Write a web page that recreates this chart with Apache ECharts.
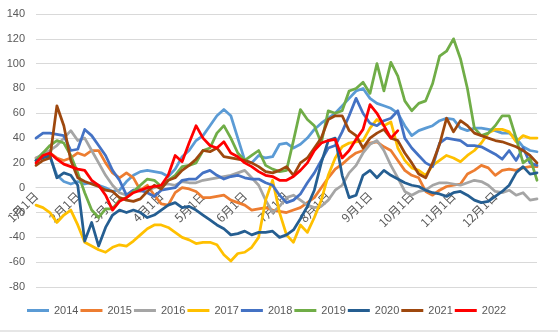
<!DOCTYPE html>
<html><head><meta charset="utf-8">
<script src="https://cdn.jsdelivr.net/npm/echarts@6/dist/echarts.min.js"></script>
<style>html,body{margin:0;padding:0;background:#fff}#c{width:558px;height:332px}</style>
</head><body><div id="c"></div>
<script>
// Category axis: 6 samples per month, plus year end
const months = [1,2,3,4,5,6,7,8,9,10,11,12];
const sampleDays = [1,6,11,16,21,26];
const categories = [];
months.forEach(m => sampleDays.forEach(d => categories.push(m + '月' + d + '日')));
categories.push('12月31日');

const seriesNames = ['2014','2015','2016','2017','2018','2019','2020','2021','2022'];
const colors = ['#5B9BD5','#ED7D31','#A5A5A5','#FFC000','#4472C4','#70AD47','#255E91','#9E480E','#FF0000'];

const s2014 = [22,28,25,10,5,3,5,3,4,2, 0,-3,-2,5,10,13,14,13,12,9, 15,25,30,38,42,50,58,63,58,40, 22,20,26,24,25,35,36,32,35,40, 47,52,56,60,66,72,78,80,72,68, 66,64,60,50,42,46,48,50,54,56, 55,48,46,48,48,47,46,44,44,40, 33,30,29];
const s2015 = [24,26,28,24,22,24,28,26,30,30, 20,12,8,12,8,-2,2,-6,-13,-14, -4,0,-1,-3,-8,-8,-7,-6,-10,-12, -14,-18,-17,-16,-18,-19,-20,-18,-16,-12, -8,0,8,15,19,24,28,30,36,37, 33,30,22,14,10,8,-3,-6,-2,1, 2,3,11,14,18,16,10,14,15,14, 16,17,17];
const s2016 = [24,27,30,34,40,46,38,40,30,20, 10,2,-4,-6,-2,-3,-2,0,2,3, 2,5,4,4,6,7,8,9,10,12, 14,8,2,-10,-20,-15,-8,-6,-10,-14, -16,-15,-10,-2,2,12,18,28,35,38, 30,18,8,-3,-6,-3,-2,2,4,4, 3,2,4,6,5,2,-3,-4,-2,-6, -4,-10,-9];
const s2017 = [-14,-16,-20,-28,-22,-18,-30,-44,-47,-50, -52,-48,-46,-47,-43,-38,-33,-30,-30,-32, -36,-40,-42,-45,-44,-44,-46,-54,-59,-53, -52,-48,-40,-10,6,-20,-38,-44,-30,-36, -24,-10,10,24,33,36,37,38,48,55, 50,53,32,22,16,14,10,18,22,26, 24,21,26,30,36,44,47,47,45,37, 42,40,40];
const s2018 = [40,44,44,43,42,30,31,47,42,34, 26,14,6,-6,-2,-2,-4,-7,-2,-1, 0,6,7,7,12,14,10,7,9,10, 8,7,7,4,2,-6,-12,-10,-5,4, 12,22,32,34,45,58,72,60,52,50, 54,56,62,40,32,26,20,17,36,40, 39,38,34,34,33,30,27,23,30,22, 32,20,18];
const s2019 = [22,28,34,38,36,26,12,-4,-18,-24, -17,-17,-10,-8,-3,2,7,6,1,6, 10,17,18,20,30,32,44,50,40,28, 22,26,30,18,15,13,14,38,63,55, 50,36,62,60,62,78,80,85,76,100, 78,101,90,70,62,68,70,84,106,110, 120,104,80,48,42,44,50,58,58,40, 20,24,6];
const s2020 = [22,24,26,8,12,10,2,-43,-28,-47, -32,-22,-18,-20,-18,-20,-24,-22,-18,-14, -12,-16,-15,-18,-22,-26,-30,-33,-38,-37, -35,-38,-36,-36,-35,-40,-38,-34,-25,-15, -2,20,38,40,10,-8,-6,10,14,8, 14,10,7,4,2,1,-2,-4,-5,-7, -4,-3,-6,-10,-12,-11,-7,-3,2,12, 17,11,12];
const s2021 = [18,22,24,66,50,22,8,5,3,1, -2,-3,-8,-10,-11,-9,-3,2,-1,6, 8,14,18,23,30,29,32,25,24,23, 22,20,17,13,12,14,17,10,20,24, 32,40,55,58,58,46,42,32,40,44, 47,40,38,28,20,11,8,20,35,56, 45,54,50,44,42,40,38,37,35,33, 30,26,20];
const s2022 = [20,26,28,23,19,17,15,14,6,2, -6,-18,-11,-8,-4,-2,0,1,2,10, 26,21,36,50,40,34,32,37,28,25, 20,17,13,10,9,6,6,9,14,20, 30,36,38,39,24,30,39,47,67,60, 50,40,46];

const seriesData = [s2014,s2015,s2016,s2017,s2018,s2019,s2020,s2021,s2022];

const yMin = -80, yMax = 140, yStep = 20;
const W = 558, H = 332;
const grid = {left: 36, right: 21, top: 14, bottom: 45};
const plotH = H - grid.top - grid.bottom;
// move the category axis (line + labels) up to the zero line
const zeroOffset = -((0 - yMin) / (yMax - yMin)) * plotH;

const chart = echarts.init(document.getElementById('c'), null, {renderer: 'canvas'});
chart.setOption({
  animation: false,
  backgroundColor: '#ffffff',
  color: colors,
  grid: Object.assign({containLabel: false, outerBoundsMode: 'none'}, grid),
  legend: {
    data: seriesNames,
    left: 27, top: 305, padding: 0,
    icon: 'rect', itemWidth: 22, itemHeight: 3, itemGap: 2,
    textStyle: {color: '#595959', fontSize: 11, fontFamily: 'Liberation Sans'}
  },
  xAxis: {
    type: 'category',
    data: categories,
    boundaryGap: false,
    offset: zeroOffset,
    axisLine: {show: true, onZero: false, lineStyle: {color: '#D9D9D9', width: 1}},
    axisTick: {show: false},
    splitLine: {show: false},
    axisLabel: {
      rotate: 45, margin: 6,
      color: '#595959', fontSize: 12, fontFamily: 'Noto Sans CJK SC',
      interval: (idx, val) => val.split('月')[1] === '1日'
    }
  },
  yAxis: {
    type: 'value',
    min: yMin, max: yMax, interval: yStep,
    axisLine: {show: false}, axisTick: {show: false},
    splitLine: {lineStyle: {color: '#D9D9D9', width: 1}},
    axisLabel: {color: '#595959', fontSize: 11, fontFamily: 'Liberation Sans', margin: 11}
  },
  graphic: [{type: 'rect', shape: {x: 0, y: 330, width: W, height: 2}, style: {fill: '#E6E6E6'}, silent: true}],
  series: seriesNames.map((n, i) => ({
    name: n, type: 'line', data: seriesData[i],
    symbol: 'none', showSymbol: false,
    lineStyle: {width: 2.75, cap: 'round', join: 'round'},
    emphasis: {disabled: true}
  }))
});
</script></body></html>
